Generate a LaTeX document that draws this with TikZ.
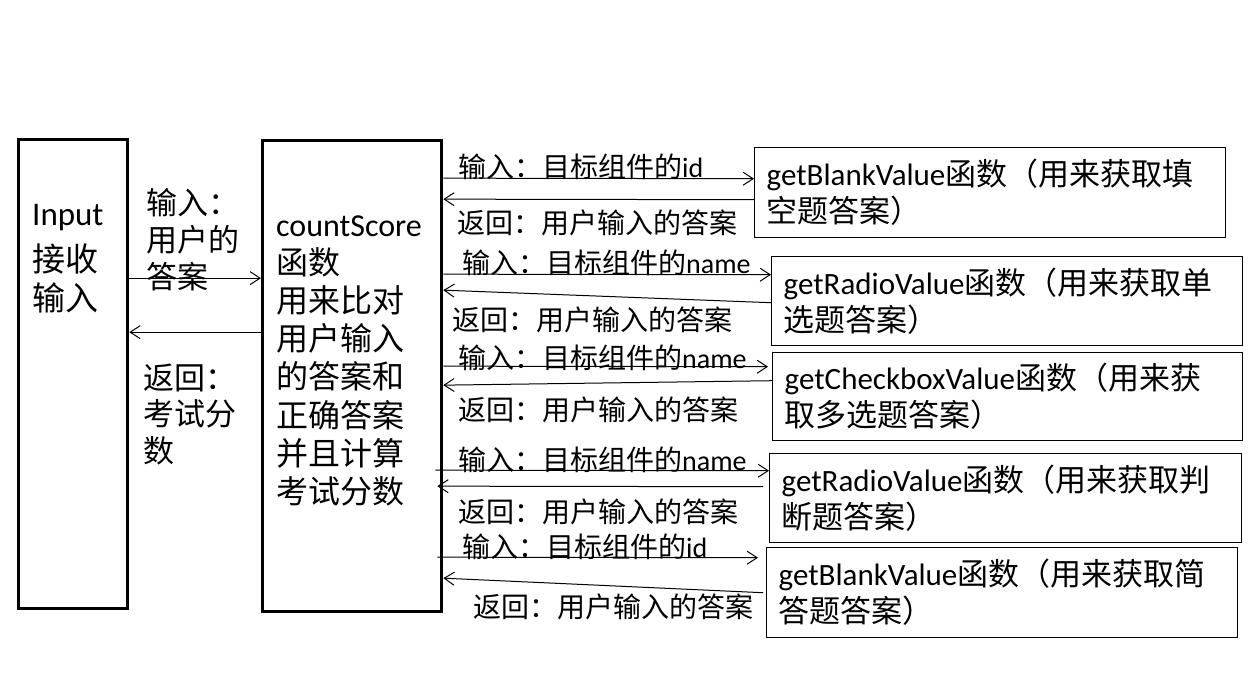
\documentclass[tikz,border=0pt]{standalone}
\usepackage{fontspec}
\setmainfont{Carlito}
\newfontfamily\cjk{Noto Sans CJK SC}
\newcommand\zhtext[1]{{\cjk #1}}
\usetikzlibrary{arrows.meta}
\begin{document}
\begin{tikzpicture}[x=1pt,y=-1pt,
  big/.style={draw, line width=3.3pt, inner sep=0pt, anchor=north west},
  fbox/.style={draw, line width=1.4pt, anchor=north west, align=left, inner xsep=12pt, inner ysep=0pt,
    font=\fontsize{31}{37}\selectfont, execute at begin node={\hyphenpenalty=10000\relax}},
  lbl/.style={anchor=base west, inner sep=0pt, font=\fontsize{28}{34}\selectfont\cjk},
  txt/.style={anchor=base west, inner sep=0pt, font=\fontsize{31}{38}\selectfont},
  side/.style={anchor=base west, inner sep=0pt, font=\fontsize{31}{36}\selectfont},
  arr/.style={line width=1pt, -{Straight Barb[length=10pt,width=13pt,line width=1pt]}}]
\fill[white] (0,0) rectangle (1257,673);
\useasboundingbox (0,0) rectangle (1257,673);

% main boxes
\node[big, minimum width=109pt, minimum height=469pt] (inp) at (17,138) {};
\node[big, minimum width=179pt, minimum height=471pt] (cs) at (261,139) {};

\node[txt, font=\fontsize{33}{38}\selectfont] (inptxt) at (32,225) {\begin{tabular}[t]{@{}l@{}}Input\\[7pt]\cjk 接收\\\cjk 输入\end{tabular}};
\node[txt, font=\fontsize{32}{37.5}\selectfont] (cstxt) at (276,236) {\begin{tabular}[t]{@{}l@{}}countScore\\\cjk 函数\\\cjk 用来比对\\\cjk 用户输入\\\cjk 的答案和\\\cjk 正确答案\\\cjk 并且计算\\\cjk 考试分数\end{tabular}};

% side labels
\node[side] (lin) at (146,214) {\begin{tabular}[t]{@{}l@{}}\cjk 输入：\\\cjk 用户的\\\cjk 答案\end{tabular}};
\node[side] (lret) at (143,389) {\begin{tabular}[t]{@{}l@{}}\cjk 返回：\\\cjk 考试分\\\cjk 数\end{tabular}};

\draw[arr] ([yshift=96pt]inp.east) -- ([yshift=98pt]cs.west);
\draw[arr] ([yshift=44pt]cs.west) -- ([yshift=42pt]inp.east);

% function boxes
\node[fbox, text width=447pt, minimum height=90pt] (b1) at (754,147) {getBlankValue\zhtext{函数（用来获取填}\\\zhtext{空题答案）}};
\node[fbox, text width=447pt, minimum height=89pt] (b2) at (771,256) {getRadioValue\zhtext{函数（用来获取单}\\\zhtext{选题答案）}};
\node[fbox, text width=446pt, minimum height=88pt] (b3) at (772,352) {getCheckboxValue\zhtext{函数（用来获}\\\zhtext{取多选题答案）}};
\node[fbox, text width=448pt, minimum height=89pt] (b4) at (769,453) {getRadioValue\zhtext{函数（用来获取判}\\\zhtext{断题答案）}};
\node[fbox, text width=447pt, minimum height=90pt] (b5) at (766,547) {getBlankValue\zhtext{函数（用来获取简}\\\zhtext{答题答案）}};

% labels
\node[lbl] (l1a) at (458,177) {输入：目标组件的\textrm{id}};
\node[lbl] (l1b) at (457,233) {返回：用户输入的答案};
\node[lbl] (l2a) at (462,273) {输入：目标组件的\textrm{name}};
\node[lbl] (l2b) at (452,330) {返回：用户输入的答案};
\node[lbl] (l3a) at (458,368) {输入：目标组件的\textrm{name}};
\node[lbl] (l3b) at (458,420) {返回：用户输入的答案};
\node[lbl] (l4a) at (458,470) {输入：目标组件的\textrm{name}};
\node[lbl] (l4b) at (458,522) {返回：用户输入的答案};
\node[lbl] (l5a) at (462,557) {输入：目标组件的\textrm{id}};
\node[lbl] (l5b) at (473,617) {返回：用户输入的答案};

% connectors
\draw[arr] ([yshift=198pt]cs.east) -- ([yshift=14pt]b1.west);
\draw[arr] ([yshift=-7pt]b1.west) -- ([yshift=177pt]cs.east);
\draw[arr] ([yshift=102pt]cs.east) -- ([yshift=26.5pt]b2.west);
\draw[arr] ([yshift=-1.5pt]b2.west) -- ([yshift=86pt]cs.east);
\draw[arr] ([yshift=10pt]cs.east) -- ([xshift=-4pt,yshift=30pt]b3.west);
\draw[arr] ([yshift=16pt]b3.west) -- ([yshift=-9pt]cs.east);
\draw[arr] ([xshift=-8pt,yshift=-94pt]cs.east) -- ([yshift=27.5pt]b4.west);
\draw[arr] ([xshift=-6pt,yshift=11.5pt]b4.west) -- ([xshift=-6pt,yshift=-110pt]cs.east);
\draw[arr] ([xshift=-6pt,yshift=-181pt]cs.east) -- ([xshift=-8pt,yshift=35pt]b5.west);
\draw[arr] ([xshift=-3pt]b5.west) -- ([yshift=-202pt]cs.east);
\end{tikzpicture}
\end{document}
